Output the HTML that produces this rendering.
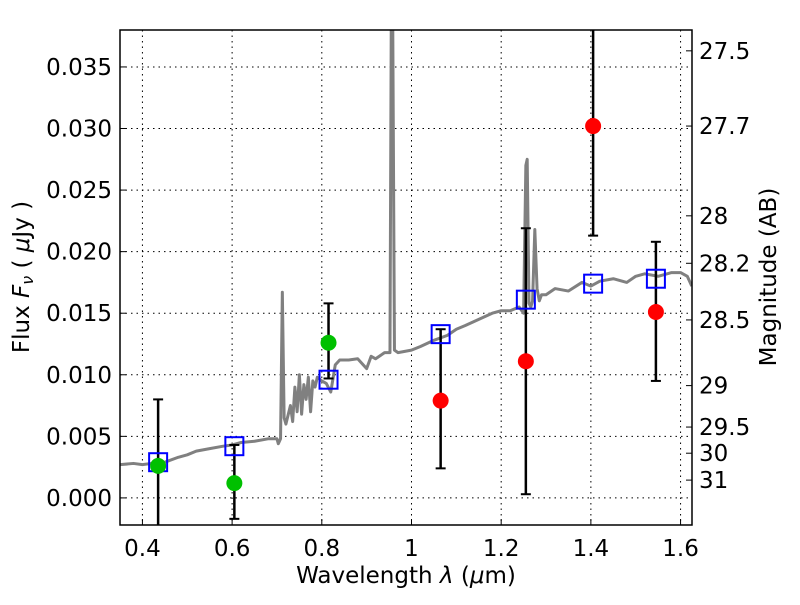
<!DOCTYPE html>
<html><head><meta charset="utf-8"><style>
body{margin:0;background:#fff;}
svg text{font-family:"DejaVu Sans","Liberation Sans",sans-serif;fill:#000;}
</style></head><body>
<svg id="chart" width="800" height="600" viewBox="0 0 800 600" xmlns="http://www.w3.org/2000/svg">
<rect width="800" height="600" fill="#fff"/>
<g id="grid"></g><g id="spec"></g><g id="marks"></g><g id="axes"></g>
</svg>
<script>
const specWave=[0.35,0.38,0.40,0.42,0.45,0.48,0.50,0.52,0.55,0.58,0.60,0.62,0.65,0.68,0.70,0.703,0.708,0.712,0.716,0.72,0.73,0.735,0.74,0.745,0.75,0.755,0.76,0.765,0.77,0.775,0.78,0.785,0.79,0.80,0.81,0.82,0.83,0.84,0.86,0.88,0.90,0.91,0.92,0.94,0.952,0.955,0.958,0.962,0.97,1.0,1.02,1.05,1.08,1.1,1.12,1.15,1.18,1.2,1.22,1.24,1.25,1.255,1.258,1.262,1.266,1.27,1.275,1.28,1.285,1.29,1.30,1.32,1.35,1.38,1.40,1.42,1.45,1.48,1.50,1.52,1.55,1.58,1.60,1.615,1.625];
const specFlux=[0.0027,0.0028,0.0027,0.0028,0.0029,0.0033,0.0035,0.0038,0.0040,0.0042,0.0043,0.0045,0.0046,0.0048,0.0048,0.0044,0.0048,0.0167,0.0065,0.0060,0.0075,0.0062,0.0090,0.0070,0.0100,0.0068,0.0092,0.0080,0.0098,0.0070,0.0095,0.0090,0.0098,0.0095,0.0093,0.0086,0.0108,0.0112,0.0112,0.0113,0.0105,0.0115,0.0113,0.0118,0.0118,0.0400,0.0400,0.0120,0.0118,0.0120,0.0123,0.0128,0.0132,0.0137,0.0140,0.0145,0.0150,0.0152,0.0152,0.0155,0.0150,0.0270,0.0275,0.0158,0.0155,0.0160,0.0218,0.0170,0.0160,0.0165,0.0165,0.0170,0.0168,0.0175,0.0172,0.0176,0.0178,0.0175,0.0180,0.0182,0.0180,0.0183,0.0183,0.0180,0.0172];
const photWave=[0.435,0.605,0.815,1.065,1.255,1.405,1.545];
const photFlux=[0.0026,0.0012,0.0126,0.0079,0.0111,0.0302,0.0151];
const errLow=[-0.005,-0.0017,0.0097,0.0024,0.0003,0.0213,0.0095];
const errHigh=[0.0080,0.0043,0.0158,0.0137,0.0219,0.045,0.0208];
const modelFlux=[0.0029,0.0042,0.0096,0.0133,0.0161,0.0174,0.0178];
const xTicks=[0.4,0.6,0.8,1.0,1.2,1.4,1.6];
const xTickLabels=["0.4","0.6","0.8","1","1.2","1.4","1.6"];
const yTicks=[0,0.005,0.01,0.015,0.02,0.025,0.03,0.035];
const yTickLabels=["0.000","0.005","0.010","0.015","0.020","0.025","0.030","0.035"];
const magTicks=[27.5,27.7,28,28.2,28.5,29,29.5,30,31];
const magLabels=["27.5","27.7","28","28.2","28.5","29","29.5","30","31"];

const L=120,R=692,T=30,B=525;
const X0=0.35,X1=1.6255,Y0=-0.0022,Y1=0.038;
const xs=v=>L+(v-X0)/(X1-X0)*(R-L);
const ys=v=>B-(v-Y0)/(Y1-Y0)*(B-T);
const NS="http://www.w3.org/2000/svg";
function mk(tag,attrs,parent){const e=document.createElementNS(NS,tag);for(const k in attrs)e.setAttribute(k,attrs[k]);document.getElementById(parent).appendChild(e);return e;}

const defs=document.createElementNS(NS,'defs');defs.innerHTML='<clipPath id="clp"><rect x="120" y="30" width="572" height="495"/></clipPath>';
document.getElementById('chart').prepend(defs);
document.getElementById('spec').setAttribute('clip-path','url(#clp)');
document.getElementById('marks').setAttribute('clip-path','url(#clp)');

xTicks.forEach((t,i)=>{
  const g=mk('line',{x1:xs(t),x2:xs(t),y1:T,y2:B,stroke:'#000','stroke-dasharray':'1.5,4','stroke-width':1},'grid');
  
  
  const tk=mk('line',{x1:xs(t),x2:xs(t),y1:B,y2:B-6,stroke:'#000'},'axes');
  
  
  const tx=mk('text',{x:xs(t),y:556,'text-anchor':'middle','font-size':23},'axes');tx.textContent=xTickLabels[i];
  
  
});
yTicks.forEach((t,i)=>{
  const g=mk('line',{x1:L,x2:R,y1:ys(t),y2:ys(t),stroke:'#000','stroke-dasharray':'1.5,4','stroke-width':1},'grid');
  
  
  const tk=mk('line',{x1:L,x2:L+6,y1:ys(t),y2:ys(t),stroke:'#000'},'axes');
  
  
  const tx=mk('text',{x:112,y:ys(t)+8,'text-anchor':'end','font-size':23},'axes');tx.textContent=yTickLabels[i];
  
  
});
magTicks.forEach((m,i)=>{
  const f=Math.pow(10,(23.9-m)/2.5);
  const tk=mk('line',{x1:R-6,x2:R,y1:ys(f),y2:ys(f),stroke:'#000'},'axes');
  
  
  const tx=mk('text',{x:699,y:ys(f)+8,'font-size':23},'axes');tx.textContent=magLabels[i];
  
  
});

const sp=mk('polyline',{points:specWave.map((w,i)=>xs(w)+','+ys(specFlux[i])).join(' '),fill:'none',stroke:'#808080','stroke-width':3,'stroke-linejoin':'round'},'spec');



photWave.forEach((w,i)=>{
  const x=xs(w);
  const e=mk('line',{x1:x,x2:x,y1:ys(errLow[i]),y2:ys(errHigh[i]),stroke:'#000','stroke-width':2.5},'marks');
  
  
  [errLow[i],errHigh[i]].forEach(v=>{
    const c=mk('line',{x1:x-5,x2:x+5,y1:ys(v),y2:ys(v),stroke:'#000','stroke-width':2},'marks');
    
    
  });
  const s=mk('rect',{x:x-9,y:ys(modelFlux[i])-9,width:18,height:18,fill:'none',stroke:'#0000ff','stroke-width':2},'marks');
  
  
  const p=mk('circle',{cx:x,cy:ys(photFlux[i]),r:8,fill:i<3?'#00c000':'#ff0000'},'marks');
  
  
});

const fr=mk('rect',{x:L,y:T,width:R-L,height:B-T,fill:'none',stroke:'#000','stroke-width':1.5},'axes');


</script>
<svg style="position:absolute;left:0;top:0" width="800" height="600">
<text x="406" y="583" text-anchor="middle" font-size="23" font-family="DejaVu Sans, sans-serif">Wavelength  <tspan font-style="italic">λ</tspan> (<tspan font-style="italic">μ</tspan>m)</text>
<text transform="translate(29,277) rotate(-90)" text-anchor="middle" font-size="23" font-family="DejaVu Sans, sans-serif">Flux  <tspan font-style="italic">F</tspan><tspan font-style="italic" font-size="16" dy="4">ν</tspan><tspan dy="-4">   ( </tspan><tspan font-style="italic">μ</tspan>Jy )</text>
<text transform="translate(776,277) rotate(-90)" text-anchor="middle" font-size="23" font-family="DejaVu Sans, sans-serif">Magnitude (AB)</text>
</svg>
</body></html>
